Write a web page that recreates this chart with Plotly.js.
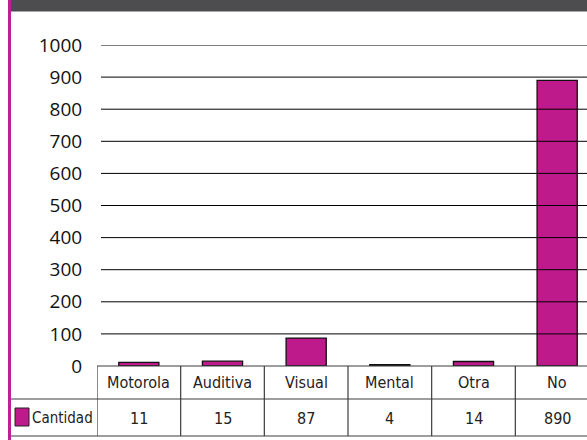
<!DOCTYPE html>
<html><head><meta charset="utf-8">
<script src="https://cdn.plot.ly/plotly-3.0.1.min.js"></script>
<style>html,body{margin:0;padding:0;overflow:hidden;background:#fff;width:587px;height:440px}#c{width:620px;height:440px}</style>
</head><body><div id="c"></div>
<script>
const categories = ["Motorola","Auditiva","Visual","Mental","Otra","No"];
const values = [11, 15, 87, 4, 14, 890];
const seriesName = "Cantidad";
const yTicks = [0,100,200,300,400,500,600,700,800,900,1000];

const W = 620, H = 440, L = 97, R = 21, T = 45, B = 74;
const pw = W - L - R, ph = H - T - B;
const px = p => (p - L) / pw;
const py = p => (H - B - p) / ph;

const magenta = "#bf1a8c";
const lineCol = "#3c3c3c";
const catFont = {family: "DejaVu Sans Condensed, Liberation Sans Narrow, sans-serif", size: 16, color: "#222"};

const shapes = [];
// gridlines (start slightly right of the table border as in the reference)
yTicks.filter(v => v > 0).forEach(v => {
  shapes.push({type:"line", xref:"paper", yref:"y", x0:px(101), x1:1, y0:v, y1:v, line:{color:"#000", width:1}});
});
// header bar
shapes.push({type:"rect", xref:"paper", yref:"paper", x0:px(11), x1:px(600), y0:py(11.5), y1:py(0), fillcolor:"#4d4d4f", line:{width:0}, layer:"above"});
// magenta stripe
shapes.push({type:"rect", xref:"paper", yref:"paper", x0:px(8), x1:px(11), y0:py(440), y1:py(0), fillcolor:"#c21f95", line:{width:0}, layer:"above"});
// table lines
shapes.push({type:"line", xref:"paper", yref:"paper", x0:0, x1:1, y0:0, y1:0, line:{color:lineCol, width:1.2}});
shapes.push({type:"line", xref:"paper", yref:"paper", x0:px(11), x1:1, y0:py(399), y1:py(399), line:{color:lineCol, width:1.2}});
shapes.push({type:"line", xref:"paper", yref:"paper", x0:px(11), x1:1, y0:py(436), y1:py(436), line:{color:lineCol, width:1.2}});
for (let i = 0; i <= categories.length; i++) {
  shapes.push({type:"line", xref:"x", yref:"paper", x0:i-0.5, x1:i-0.5, y0:py(436), y1:0, line:{color:lineCol, width:1.2}});
}
// legend square
shapes.push({type:"rect", xref:"paper", yref:"paper", x0:px(15), x1:px(29), y0:py(426), y1:py(408), fillcolor:magenta, line:{color:"#222", width:1}});

const annotations = [];
categories.forEach((c, i) => {
  annotations.push({x:i, y:py(383), xref:"x", yref:"paper", text:c, showarrow:false, font:catFont, xanchor:"center", yanchor:"middle"});
  annotations.push({x:i, y:py(418), xref:"x", yref:"paper", text:String(values[i]), showarrow:false, font:catFont, xanchor:"center", yanchor:"middle"});
});
annotations.push({x:px(30), y:py(418), xref:"paper", yref:"paper", text:seriesName, showarrow:false,
  font:Object.assign({}, catFont, {size:15}), xanchor:"left", yanchor:"middle"});

const data = [{
  type:"bar", x:categories, y:values, name:seriesName,
  marker:{color:magenta, line:{color:"#111", width:1.3}},
  hoverinfo:"none"
}];

const layout = {
  width:W, height:H,
  margin:{l:L, r:R, t:T, b:B},
  paper_bgcolor:"#fff", plot_bgcolor:"rgba(0,0,0,0)",
  showlegend:false,
  bargap:0.52,
  font:{family:"Open Sans, sans-serif"},
  xaxis:{type:"category", range:[-0.5, 5.5], showticklabels:false, showgrid:false, zeroline:false, showline:false, ticks:""},
  yaxis:{range:[0,1000], tickvals:yTicks, ticktext:yTicks.map(String), showgrid:false,
         zeroline:false, showline:false, ticks:"outside", ticklen:10, tickcolor:"rgba(0,0,0,0)",
         tickfont:{family:"Open Sans, sans-serif", size:19, color:"#111"}},
  shapes:shapes, annotations:annotations
};
Plotly.newPlot("c", data, layout, {staticPlot:true, displayModeBar:false});
</script></body></html>
